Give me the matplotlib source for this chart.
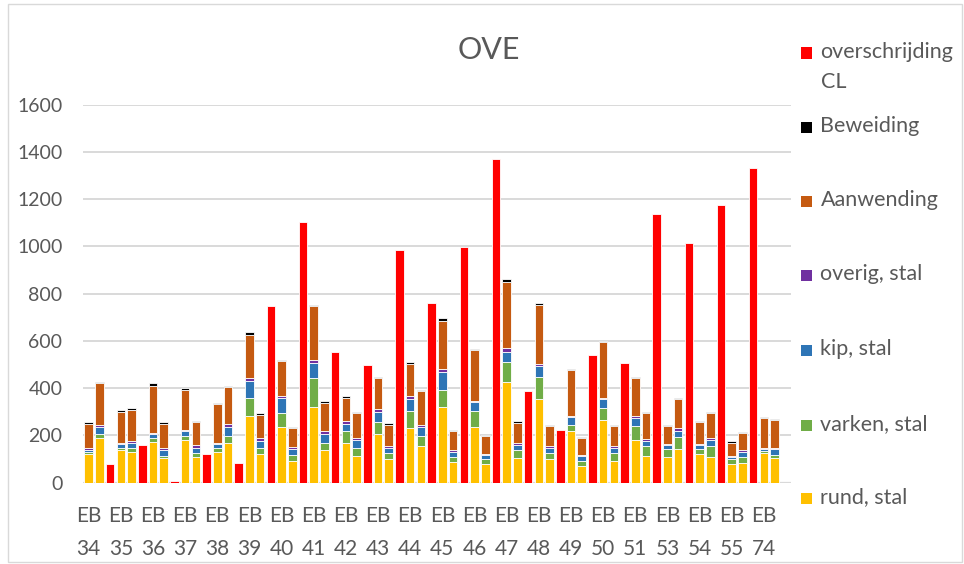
import numpy as np
import matplotlib
matplotlib.use("Agg")
import matplotlib.pyplot as plt
from matplotlib.patches import Rectangle

plt.rcParams['font.family'] = ['Lato', 'DejaVu Sans']

# categories (each has two stacked bars and one red bar)
groups = ['34', '35', '36', '37', '38', '39', '40', '41', '42', '43', '44',
          '45', '46', '47', '48', '49', '50', '51', '53', '54', '55', '74']

# stacked components, two bars per category (a, b)
rund = [120, 187, 137, 131, 174, 105, 181, 110, 131, 170, 284, 120, 235, 93,
        322, 137, 170, 114, 208, 99, 230, 154, 322, 88, 236, 78, 425, 105,
        355, 99, 219, 71, 267, 93, 181, 114, 110, 143, 122, 110, 78, 83, 127, 105]
varken = [10, 19, 10, 17, 15, 9, 15, 14, 16, 26, 75, 27, 59, 23, 119, 33,
          49, 33, 49, 27, 75, 44, 71, 21, 69, 21, 87, 32, 92, 27, 26, 21,
          50, 33, 59, 40, 33, 49, 21, 44, 21, 27, 6, 11]
kip = [10, 30, 16, 22, 16, 26, 22, 24, 17, 40, 73, 31, 66, 27, 66, 36,
       31, 35, 43, 21, 51, 38, 76, 21, 37, 17, 42, 21, 45, 22, 31, 20,
       36, 22, 33, 21, 17, 28, 17, 28, 11, 21, 11, 28]
overig = [7, 10, 4, 5, 7, 7, 5, 10, 6, 14, 10, 9, 6, 7, 12, 12, 11, 6, 12, 8,
          10, 10, 10, 7, 4, 6, 17, 10, 10, 7, 5, 5, 6, 6, 11, 10, 5, 10, 5, 6,
          3, 6, 4, 4]
aanwending = [103, 174, 134, 132, 195, 102, 169, 99, 162, 153, 184, 101, 147, 80,
              227, 121, 99, 106, 129, 91, 136, 140, 206, 82, 215, 74, 277, 86,
              249, 85, 194, 70, 236, 86, 158, 110, 75, 125, 92, 107, 57, 74, 125, 116]
beweiding = [6, 7, 6, 7, 13, 7, 7, 6, 6, 7, 11, 7, 6, 6, 6, 7, 7, 7, 7, 6,
             7, 8, 10, 6, 6, 6, 13, 7, 11, 6, 6, 5, 6, 6, 6, 6, 6, 5, 6, 6,
             5, 5, 5, 6]

# red bar, one per category
overschrijding = [78, 158, 7, 120, 82, 746, 1105, 555, 496, 985, 762, 996,
                  1371, 387, 223, 539, 506, 1138, 1012, 1176, 1333, np.nan]

series = [
    ('rund, stal', rund, '#FFC000'),
    ('varken, stal', varken, '#70AD47'),
    ('kip, stal', kip, '#2E75B6'),
    ('overig, stal', overig, '#7030A0'),
    ('Aanwending', aanwending, '#C55A11'),
    ('Beweiding', beweiding, '#000000'),
]
red = '#FF0000'
grey = '#595959'

fig = plt.figure(figsize=(9.64, 5.64), dpi=100)
W, H = 964, 564
ax = fig.add_axes([83.3 / W, 1 - 482.7 / H, (790.7 - 83.3) / W, (482.7 - 104.5) / H])

n = len(groups)
idx = np.arange(n)
xa = 3 * idx
xb = 3 * idx + 1
xr = 3 * idx + 2
xs = np.ravel(np.column_stack([xa, xb]))

bw = 0.8
bottom = np.zeros(len(xs))
for name, vals, col in series:
    v = np.array(vals, dtype=float)
    ax.bar(xs, v, bw, bottom=bottom, color=col, edgecolor='white', linewidth=0.6, zorder=3)
    bottom += v
ax.bar(xr, overschrijding, bw, color=red, edgecolor='white', linewidth=0.6, zorder=3)

ax.set_xlim(-0.5, 3 * n - 0.5)
ax.set_ylim(0, 1600)
ax.set_yticks(np.arange(0, 1601, 200))
ax.yaxis.grid(True, color='#D9D9D9', linewidth=1.4, zorder=0)
ax.set_axisbelow(True)
for s in ax.spines.values():
    s.set_visible(False)
ax.axhline(0, color='#D9D9D9', linewidth=1.6, zorder=2)

ax.set_xticks(xa)
ax.set_xticklabels(['EB\n' + g for g in groups], linespacing=1.8)
ax.tick_params(axis='both', length=0, labelsize=14, labelcolor=grey)
ax.tick_params(axis='x', labelsize=15, pad=17)
ax.tick_params(axis='y', pad=15)

fig.text(489 / W, 1 - 50 / H, 'OVE', ha='center', va='center', fontsize=22, color=grey)

# legend on the right
legend_rows = [
    ('overschrijding\nCL', red, 53),
    ('Beweiding', '#000000', 127),
    ('Aanwending', '#C55A11', 201.5),
    ('overig, stal', '#7030A0', 275),
    ('kip, stal', '#2E75B6', 350),
    ('varken, stal', '#70AD47', 425),
    ('rund, stal', '#FFC000', 498),
]
sq = 11
for label, col, yc in legend_rows:
    fig.patches.append(Rectangle((801 / W, 1 - (yc + sq / 2) / H), sq / W, sq / H,
                                 transform=fig.transFigure, facecolor=col, edgecolor='none'))
    fig.text(820.5 / W, 1 - (yc - 11) / H, label, ha='left', va='top', fontsize=15.5,
             color=grey, linespacing=1.6)

# chart border
fig.patches.append(Rectangle((8 / W, 2 / H), (962 - 8) / W, (560 - 2) / H,
                             transform=fig.transFigure, facecolor='none',
                             edgecolor='#D9D9D9', linewidth=1))

fig.savefig('out.png', dpi=100)
